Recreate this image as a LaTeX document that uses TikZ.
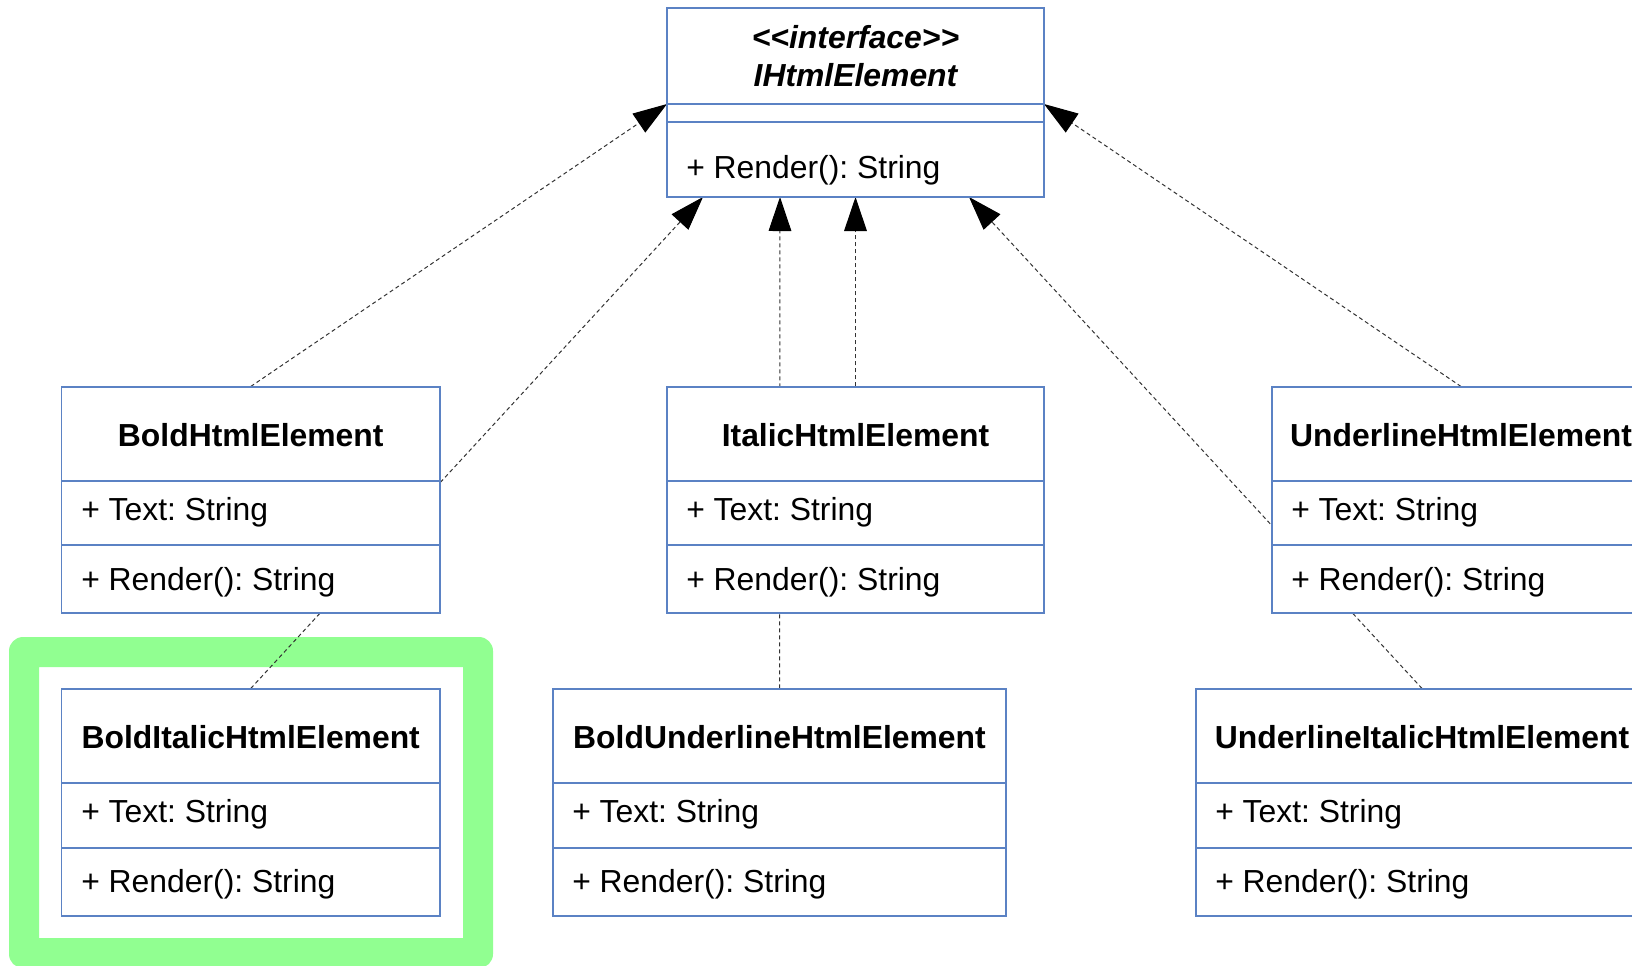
\documentclass[tikz,border=0pt]{standalone}
\usepackage{fontspec}
\setmainfont{Liberation Sans}
\usetikzlibrary{arrows.meta,fit}
\definecolor{boxblue}{HTML}{5B82C4}
\definecolor{frameGreen}{RGB}{145,255,145}
\definecolor{linegray}{HTML}{333333}
\pgfdeclarelayer{framelayer}
\pgfdeclarelayer{linelayer}
\pgfsetlayers{framelayer,linelayer,main}
\frenchspacing
\begin{document}
\frenchspacing
\begin{tikzpicture}[x=0.75pt,y=-0.75pt,
  classbox/.style={draw=boxblue, fill=white, line width=0.8pt, inner sep=0pt, rectangle},
  divider/.style={draw=boxblue, line width=0.8pt},
  ctitle/.style={font=\fontsize{23.9}{28}\selectfont\bfseries, anchor=base, inner sep=0pt},
  ititle/.style={font=\fontsize{23.9}{28}\selectfont\bfseries\itshape, anchor=base, inner sep=0pt},
  member/.style={font=\fontsize{23.9}{28}\selectfont, anchor=base west, inner sep=0pt},
  realize/.style={draw=linegray, line width=0.75pt, dash pattern=on 3pt off 2.25pt, -{Triangle[length=25.5pt,width=17pt,color=black]}}
]
\useasboundingbox (0,0) rectangle (1632,965);
\clip (0,0) rectangle (1632,965);

% interface
\node[classbox, fit={(667,8) (1044,197)}] (iface) {};
\draw[divider] (667,104) -- (1044,104);
\draw[divider] (667,122) -- (1044,122);
\node[ititle] (iface-s) at (855.5,48.5) {<\kern0pt<interface>\kern0pt>};
\node[ititle] (iface-t) at (855.5,86) {IHtmlElement};
\node[member] (iface-m) at (686,178) {+ Render(): String};

% Bold
\node[classbox, fit={(61.5,387) (440,613)}] (bold) {};
\draw[divider] (61.5,481) -- (440,481);
\draw[divider] (61.5,545) -- (440,545);
\node[ctitle] (bold-t) at (250.75,446) {BoldHtmlElement};
\node[member] (bold-a) at (81,520) {+ Text: String};
\node[member] (bold-m) at (81,590) {+ Render(): String};

% Italic
\node[classbox, fit={(667,387) (1044,613)}] (italic) {};
\draw[divider] (667,481) -- (1044,481);
\draw[divider] (667,545) -- (1044,545);
\node[ctitle] (italic-t) at (855.5,446) {ItalicHtmlElement};
\node[member] (italic-a) at (686,520) {+ Text: String};
\node[member] (italic-m) at (686,590) {+ Render(): String};

% Underline
\node[classbox, fit={(1272,387) (1650,613)}] (under) {};
\draw[divider] (1272,481) -- (1650,481);
\draw[divider] (1272,545) -- (1650,545);
\node[ctitle] (under-t) at (1461,446) {UnderlineHtmlElement};
\node[member] (under-a) at (1291,520) {+ Text: String};
\node[member] (under-m) at (1291,590) {+ Render(): String};

% BoldItalic
\node[classbox, fit={(61.5,689) (440,916)}] (bolditalic) {};
\draw[divider] (61.5,783) -- (440,783);
\draw[divider] (61.5,848) -- (440,848);
\node[ctitle] (bolditalic-t) at (250.75,748) {BoldItalicHtmlElement};
\node[member] (bolditalic-a) at (81,822) {+ Text: String};
\node[member] (bolditalic-m) at (81,892) {+ Render(): String};

% BoldUnderline
\node[classbox, fit={(553,689) (1006,916)}] (boldunder) {};
\draw[divider] (553,783) -- (1006,783);
\draw[divider] (553,848) -- (1006,848);
\node[ctitle] (boldunder-t) at (779.5,748) {BoldUnderlineHtmlElement};
\node[member] (boldunder-a) at (572,822) {+ Text: String};
\node[member] (boldunder-m) at (572,892) {+ Render(): String};

% UnderlineItalic
\node[classbox, fit={(1196,689) (1648,916)}] (underitalic) {};
\draw[divider] (1196,783) -- (1648,783);
\draw[divider] (1196,848) -- (1648,848);
\node[ctitle] (underitalic-t) at (1422,748) {UnderlineItalicHtmlElement};
\node[member] (underitalic-a) at (1215,822) {+ Text: String};
\node[member] (underitalic-m) at (1215,892) {+ Render(): String};

% arrow end points on the interface
\coordinate (ifL) at (667,104);
\coordinate (ifR) at (1044,104);
\coordinate (ifB1) at (703,197);
\coordinate (ifB2) at (780,197);
\coordinate (ifB3) at (855.5,197);
\coordinate (ifB4) at (969,197);

\begin{pgfonlayer}{linelayer}
\draw[realize] (bold.north) -- (ifL);
\draw[realize] (bolditalic.north) -- (ifB1);
\draw[realize] (boldunder.north) -- (ifB2);
\draw[realize] (italic.north) -- (ifB3);
\draw[realize] (underitalic.north) -- (ifB4);
\draw[realize] (under.north) -- (ifR);
\end{pgfonlayer}

\begin{pgfonlayer}{framelayer}
\fill[frameGreen, even odd rule] [rounded corners=10.5pt] (9,637) rectangle (493,968) [sharp corners] (39,667) rectangle (463,938);
\end{pgfonlayer}
\end{tikzpicture}
\end{document}
